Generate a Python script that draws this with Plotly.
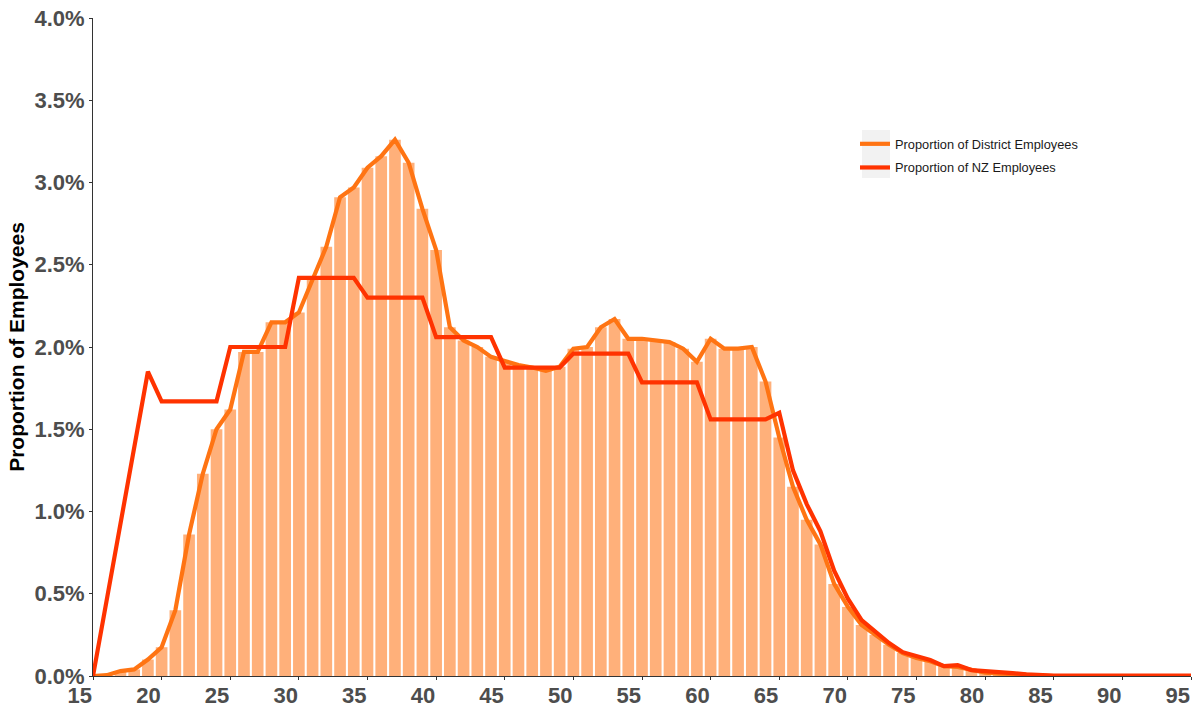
import plotly.graph_objects as go

# Ages (years)
ages = list(range(15, 96))

# Proportion of District Employees (%) per age 15..95
district_pct = [
    0.0, 0.005, 0.03, 0.04, 0.10, 0.175, 0.40, 0.86, 1.23, 1.50,      # 15-24
    1.62, 1.97, 1.97, 2.15, 2.15, 2.21, 2.41, 2.61, 2.91, 2.97,       # 25-34
    3.09, 3.16, 3.26, 3.12, 2.84, 2.59, 2.12, 2.04, 2.00, 1.94,       # 35-44
    1.915, 1.89, 1.875, 1.855, 1.88, 1.99, 2.00, 2.12, 2.17, 2.05,    # 45-54
    2.05, 2.04, 2.03, 1.99, 1.91, 2.05, 1.99, 1.99, 2.00, 1.79,       # 55-64
    1.45, 1.15, 0.95, 0.80, 0.56, 0.42, 0.31, 0.25, 0.19, 0.14,       # 65-74
    0.11, 0.09, 0.06, 0.055, 0.04, 0.02, 0.015, 0.01, 0.005, 0.0,     # 75-84
    0.0, 0.0, 0.0, 0.0, 0.0, 0.0, 0.0, 0.0, 0.0, 0.0, 0.0,            # 85-95
]

# Proportion of NZ Employees (%) per age 15..95
nz_pct = [
    0.0, 0.46, 0.93, 1.39, 1.85, 1.67, 1.67, 1.67, 1.67, 1.67,        # 15-24
    2.00, 2.00, 2.00, 2.00, 2.00, 2.42, 2.42, 2.42, 2.42, 2.42,       # 25-34
    2.30, 2.30, 2.30, 2.30, 2.30, 2.06, 2.06, 2.06, 2.06, 2.06,       # 35-44
    1.875, 1.875, 1.875, 1.875, 1.875, 1.96, 1.96, 1.96, 1.96, 1.96,  # 45-54
    1.785, 1.785, 1.785, 1.785, 1.785, 1.56, 1.56, 1.56, 1.56, 1.56,  # 55-64
    1.60, 1.25, 1.045, 0.88, 0.64, 0.47, 0.34, 0.27, 0.20, 0.145,     # 65-74
    0.12, 0.097, 0.06, 0.066, 0.036, 0.032, 0.022, 0.018, 0.01, 0.005,# 75-84
    0.003, 0.003, 0.003, 0.003, 0.003, 0.003, 0.003, 0.003, 0.003, 0.003, 0.003,  # 85-95
]

x_ticks = list(range(15, 100, 5))
y_ticks = [0.0, 0.005, 0.01, 0.015, 0.02, 0.025, 0.03, 0.035, 0.04]

district = [v / 100 for v in district_pct]
nz = [v / 100 for v in nz_pct]

BAR_COLOR = "#FFB07A"
DIST_COLOR = "#FF7413"
NZ_COLOR = "#FF3300"
FONT = "Liberation Sans, Arial, sans-serif"

fig = go.Figure()
fig.add_trace(go.Bar(x=ages, y=district, marker=dict(color=BAR_COLOR, line=dict(width=0)),
                     showlegend=False, hoverinfo="skip"))
fig.add_trace(go.Scatter(x=ages, y=district, mode="lines", name="Proportion of District Employees",
                         legendgroup="d", line=dict(color=DIST_COLOR, width=4.2)))
fig.add_trace(go.Scatter(x=ages, y=nz, mode="lines", name="Proportion of NZ Employees",
                         legendgroup="n", line=dict(color=NZ_COLOR, width=4.2)))

L, R, T, B = 93, 8, 18, 35
PW, PH = 1199 - L - R, 711 - T - B

def px_x(px):
    return (px - L) / PW

def px_y(py):
    return (711 - B - py) / PH

fig.update_layout(
    width=1199, height=711,
    margin=dict(l=L, r=R, t=T, b=B),
    paper_bgcolor="white", plot_bgcolor="white",
    bargap=0.15,
    font=dict(family=FONT),
    legend=dict(x=px_x(855), y=px_y(129), xanchor="left", yanchor="top",
                bgcolor="rgba(0,0,0,0)", font=dict(size=12.8, color="#1A1A1A"),
                traceorder="grouped", tracegroupgap=4, itemwidth=30),
    xaxis=dict(range=[15, 95], tickvals=x_ticks, ticktext=[str(t) for t in x_ticks],
               automargin=False, ticklabelposition="outside left",
               showgrid=False, zeroline=False, showline=True, linecolor="#333333", linewidth=1,
               ticks="outside", ticklen=3, tickcolor="#333333",
               tickfont=dict(size=22, color="#4D4D4D", family=FONT, weight="bold")),
    yaxis=dict(range=[0, 0.04], tickvals=y_ticks, tickformat=".1%",
               automargin=False,
               showgrid=False, zeroline=False, showline=True, linecolor="#333333", linewidth=1,
               ticks="outside", ticklen=3, tickcolor="#333333",
               tickfont=dict(size=22, color="#4D4D4D", family=FONT, weight="bold"),
               title=dict(text="Proportion of Employees", standoff=4,
                          font=dict(size=21, color="black", family=FONT, weight="bold"))),
    shapes=[dict(type="rect", xref="paper", yref="paper", x0=px_x(862), x1=px_x(890),
                 y0=px_y(178), y1=px_y(130),
                 fillcolor="#F2F2F2", line=dict(width=0), layer="below")],
)

fig.write_html("out.html", config={"displayModeBar": False},
               post_script="document.body.style.margin='0px';")
